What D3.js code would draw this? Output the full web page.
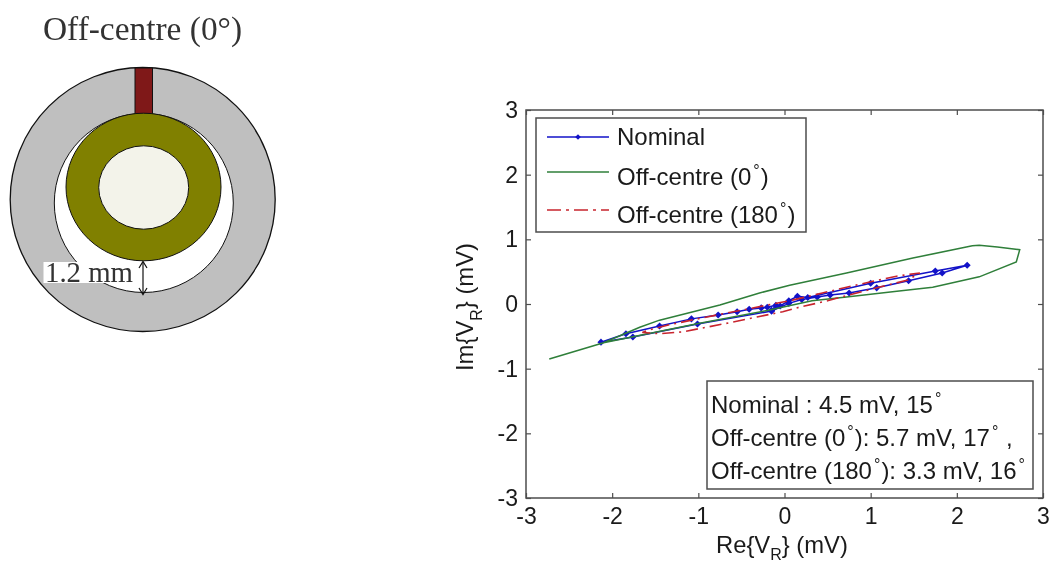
<!DOCTYPE html>
<html>
<head>
  <meta charset="utf-8">
  <script src="https://d3js.org/d3.v7.min.js"></script>
  <style>
    body { margin:0; background:#fff; }
    svg { display:block; filter:blur(0.35px); }
    text { font-family:"Liberation Sans", Arial, sans-serif; fill:#1a1a1a; }
    .serif { font-family:"Liberation Serif", serif; fill:#333; }
  </style>
</head>
<body>
  <script>
    var w = 1052, h = 563;

    //Values (mV)
    var xTicks = [-3, -2, -1, 0, 1, 2, 3];
    var yTicks = [-3, -2, -1, 0, 1, 2, 3];

    var nominalRe = [-0.15, -0.05, 0.05, 0.15, 0.27, 1.0, 1.75, 2.12, 1.83, 1.44, 1.07, 0.75, 0.53, 0.38, 0.2, 0.05, -0.15, -1.01, -1.76, -2.13, -1.84, -1.45, -1.08, -0.77, -0.55, -0.41, -0.27, -0.2, -0.1, -0.15];
    var nominalIm = [-0.1, -0.03, 0.05, 0.12, 0.1, 0.32, 0.51, 0.6, 0.48, 0.36, 0.25, 0.17, 0.14, 0.11, 0.07, 0.01, -0.11, -0.31, -0.51, -0.59, -0.46, -0.34, -0.23, -0.17, -0.12, -0.08, -0.06, -0.05, -0.02, -0.1];

    var offZeroRe = [-2.73, -2.1, -1.68, -1.45, -0.75, -0.29, 0.06, 0.72, 1.49, 2.18, 2.26, 2.47, 2.73, 2.69, 2.26, 1.72, 1.33, 0.72, 0.32, -0.2, -1.0, -2.1, -2.73];
    var offZeroIm = [-0.85, -0.6, -0.36, -0.25, -0.015, 0.17, 0.29, 0.48, 0.71, 0.9, 0.91, 0.88, 0.84, 0.65, 0.42, 0.26, 0.2, 0.11, 0.05, -0.1, -0.3, -0.6, -0.85];

    var offPiRe = [0.09, 0.44, 0.72, 0.99, 1.3, 1.57, 1.43, 1.07, 0.75, 0.5, 0.17, -0.02, -0.32, -0.6, -0.87, -1.18, -1.45, -1.65, -1.57, -1.33, -0.9, -0.4, 0.09];
    var offPiIm = [0.06, 0.17, 0.26, 0.34, 0.43, 0.48, 0.37, 0.25, 0.14, 0.05, -0.05, -0.12, -0.2, -0.28, -0.35, -0.43, -0.46, -0.44, -0.4, -0.32, -0.2, -0.07, 0.06];

    var legendLabels = [["Nominal"], ["Off-centre (0", ")"], ["Off-centre (180", ")"]];
    var noteLines = [
      ["Nominal : 4.5 mV, 15", ""],
      ["Off-centre (0", "): 5.7 mV, 17", " ,"],
      ["Off-centre (180", "): 3.3 mV, 16", ""]
    ];

    var svg = d3.select("body").append("svg").attr("width", w).attr("height", h);

    //--- left: cross section schematic ---
    var sch = svg.append("g");
    sch.append("text").attr("class", "serif").attr("x", 43).attr("y", 40)
      .style("font-size", "33.4px").text("Off-centre (0°)");

    function ell(cx, cy, rx, ry, fill, sw) {
      return sch.append("ellipse").attr("cx", cx).attr("cy", cy).attr("rx", rx).attr("ry", ry)
        .attr("fill", fill).attr("stroke", "#111").attr("stroke-width", sw);
    }
    ell(142.7, 199.5, 132.5, 132, "#bfbfbf", 1.3);
    ell(143.8, 203, 89.5, 89.5, "#fff", 1);
    sch.append("rect").attr("x", 135).attr("y", 68).attr("width", 17.5).attr("height", 46)
      .attr("fill", "#7f1818").attr("stroke", "#111").attr("stroke-width", 1);
    ell(143.5, 187, 77.5, 73.8, "#808000", 1);
    ell(143.7, 187.5, 45, 41.7, "#f3f3ea", 1);

    //dimension label and arrow
    sch.append("rect").attr("x", 43.5).attr("y", 262).attr("width", 90).attr("height", 21).attr("fill", "#fff");
    sch.append("text").attr("class", "serif").attr("x", 45).attr("y", 282)
      .style("font-size", "28.8px").text("1.2 mm");
    sch.append("line").attr("x1", 143).attr("x2", 143).attr("y1", 262).attr("y2", 294)
      .attr("stroke", "#111").attr("stroke-width", 1.2);
    sch.append("path").attr("d", "M139,268 L143,261.5 L147,268 M139,288 L143,294.5 L147,288")
      .attr("fill", "none").attr("stroke", "#111").attr("stroke-width", 1.2);

    //--- right: Re/Im plot ---
    var x = d3.scaleLinear().domain([-3, 3]).range([526, 1043]);
    var y = d3.scaleLinear().domain([-3, 3]).range([498, 110]);
    var frame = "#4d4d4d";

    function styleAxis(g) {
      g.select(".domain").attr("stroke", "none");
      g.selectAll(".tick line").attr("stroke", frame).attr("stroke-width", 1.2);
      g.selectAll("text").style("font-size", "23px").attr("fill", "#1a1a1a")
        .style("font-family", '"Liberation Sans", Arial, sans-serif');
    }

    svg.append("g").attr("transform", "translate(0,498)")
      .call(d3.axisBottom(x).tickValues(xTicks).tickFormat(String).tickSizeInner(-5).tickSizeOuter(0).tickPadding(10))
      .call(styleAxis);
    svg.append("g").attr("transform", "translate(526,0)")
      .call(d3.axisLeft(y).tickValues(yTicks).tickFormat(String).tickSizeInner(-5).tickSizeOuter(0).tickPadding(8))
      .call(styleAxis);
    svg.append("g").attr("transform", "translate(0,110)")
      .call(d3.axisTop(x).tickValues(xTicks).tickFormat("").tickSizeInner(-5).tickSizeOuter(0))
      .call(styleAxis);
    svg.append("g").attr("transform", "translate(1043,0)")
      .call(d3.axisRight(y).tickValues(yTicks).tickFormat("").tickSizeInner(-5).tickSizeOuter(0))
      .call(styleAxis);

    svg.append("rect").attr("x", 526).attr("y", 110).attr("width", 517).attr("height", 388)
      .attr("fill", "none").attr("stroke", frame).attr("stroke-width", 1.5);

    //traces, drawn in plot order so the red dashes sit on top
    var line = d3.line().x(function(d){ return x(d[0]); }).y(function(d){ return y(d[1]); });
    var green = "#2f7f3a", blue = "#1212c8", red = "#c8242e";

    var nominal = d3.zip(nominalRe, nominalIm);
    svg.append("path").datum(nominal).attr("d", line)
      .attr("fill", "none").attr("stroke", blue).attr("stroke-width", 1.5);
    var diamond = d3.symbol().type(d3.symbolDiamond2).size(32);
    svg.selectAll(".pt").data(nominal).enter().append("path").attr("class", "pt")
      .attr("transform", function(d){ return "translate(" + x(d[0]) + "," + y(d[1]) + ")"; })
      .attr("d", diamond).attr("fill", blue);
    svg.append("path").datum(d3.zip(offZeroRe, offZeroIm)).attr("d", line)
      .attr("fill", "none").attr("stroke", green).attr("stroke-width", 1.5);
    svg.append("path").datum(d3.zip(offPiRe, offPiIm)).attr("d", line)
      .attr("fill", "none").attr("stroke", red).attr("stroke-width", 1.6).attr("stroke-dasharray", "12,5,2,5");

    //axis titles with subscript
    function vr(sel, pre, drop) {
      sel.append("tspan").text(pre + "{V");
      sel.append("tspan").attr("dy", drop).style("font-size", "16px").text("R");
      sel.append("tspan").attr("dy", -drop).text("} (mV)");
    }
    svg.append("text").attr("x", 716).attr("y", 553).style("font-size", "23.8px").call(vr, "Re", 7);
    svg.append("text").attr("transform", "translate(473,371) rotate(-90)").style("font-size", "23.8px").call(vr, "Im", 9);

    //legend box
    svg.append("rect").attr("x", 536).attr("y", 118).attr("width", 270).attr("height", 114)
      .attr("fill", "#fff").attr("stroke", frame).attr("stroke-width", 1.5);

    var legendY = [137, 172, 210], baseY = [145, 185, 223];
    var legendColor = [blue, green, red];
    var legendDash = [null, null, "14,5,3,5"];
    var legendDiamond = d3.symbol().type(d3.symbolDiamond2).size(20);
    legendLabels.forEach(function(parts, i){
      svg.append("line").attr("x1", 547).attr("x2", 609).attr("y1", legendY[i]).attr("y2", legendY[i])
        .attr("stroke", legendColor[i]).attr("stroke-width", 1.3).attr("stroke-dasharray", legendDash[i]);
      if (i == 0) svg.append("path").attr("d", legendDiamond)
        .attr("transform", "translate(578," + legendY[i] + ")").attr("fill", blue);
      degText(617, baseY[i], parts);
    });

    //text pieces joined by a raised degree sign
    function degText(px, py, parts) {
      var t = svg.append("text").attr("x", px).attr("y", py).style("font-size", "24px");
      parts.forEach(function(p, j){
        if (j > 0) {
          t.append("tspan").attr("dx", 2).attr("dy", -9).style("font-size", "16px").text("°");
          t.append("tspan").attr("dx", 1).attr("dy", 9).text(p);
        } else {
          t.append("tspan").text(p);
        }
      });
    }

    //note box
    svg.append("rect").attr("x", 707).attr("y", 381).attr("width", 326).attr("height", 108)
      .attr("fill", "#fff").attr("stroke", frame).attr("stroke-width", 1.5);
    var noteY = [413, 446, 479];
    noteLines.forEach(function(parts, i){ degText(711, noteY[i], parts); });
  </script>
</body>
</html>
